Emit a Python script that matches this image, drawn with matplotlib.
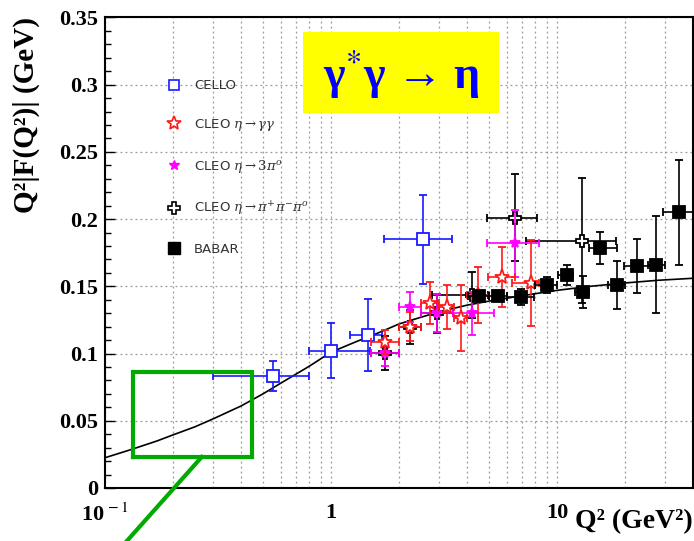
import matplotlib
matplotlib.use('Agg')
import matplotlib.pyplot as plt
import numpy as np
from matplotlib.patches import Rectangle
from matplotlib.lines import Line2D

plt.rcParams['font.family'] = ['Liberation Serif', 'DejaVu Serif']
plt.rcParams['mathtext.fontset'] = 'stix'

# CELLO
cello_q2 = np.array([0.553, 1.0, 1.46, 2.55])
cello_f = np.array([0.0833, 0.102, 0.1138, 0.185])
cello_q2_lo = np.array([0.30, 0.80, 1.21, 1.72])
cello_q2_hi = np.array([0.80, 1.49, 1.68, 3.43])
cello_err = np.array([0.0115, 0.0205, 0.027, 0.033])

# CLEO eta -> gamma gamma
gg_q2 = np.array([1.73, 2.24, 2.74, 3.26, 3.76, 4.47, 5.71, 7.67])
gg_f = np.array([0.1086, 0.120, 0.1376, 0.1347, 0.1265, 0.1436, 0.157, 0.1525])
gg_q2_lo = np.array([1.5, 2.0, 2.5, 3.0, 3.5, 4.0, 4.95, 6.3])
gg_q2_hi = np.array([2.0, 2.5, 3.0, 3.5, 4.0, 5.0, 6.5, 8.3])
gg_err = np.array([0.009, 0.011, 0.0155, 0.0165, 0.0245, 0.021, 0.0225, 0.032])

# CLEO eta -> 3pi0
pi0_q2 = np.array([1.73, 2.24, 2.95, 4.2, 6.5])
pi0_f = np.array([0.1004, 0.1347, 0.130, 0.130, 0.182])
pi0_q2_lo = np.array([1.5, 2.0, 2.5, 3.46, 4.9])
pi0_q2_hi = np.array([2.0, 2.5, 3.46, 5.24, 8.3])
pi0_err = np.array([0.010, 0.011, 0.014, 0.016, 0.025])

# CLEO eta -> pi+ pi- pi0
ppp_q2 = np.array([1.73, 2.24, 2.95, 4.2, 6.5, 12.9])
ppp_f = np.array([0.1004, 0.1198, 0.130, 0.1436, 0.201, 0.1838])
ppp_q2_lo = np.array([1.5, 2.0, 2.5, 2.8, 4.9, 7.3])
ppp_q2_hi = np.array([2.0, 2.5, 3.46, 4.95, 8.2, 18.3])
ppp_err = np.array([0.0126, 0.0125, 0.0145, 0.017, 0.0325, 0.0465])

# BABAR
babar_q2 = np.array([4.52, 5.48, 6.93, 9.03, 11.07, 13.0, 15.5, 18.4, 22.6, 27.4, 34.7])
babar_f = np.array([0.1428, 0.1428, 0.142, 0.151, 0.1585, 0.1458, 0.1786, 0.151, 0.165, 0.166, 0.205])
babar_q2_lo = np.array([4.03, 5.0, 6.0, 8.0, 10.1, 12.0, 13.9, 16.8, 19.8, 25.2, 29.6])
babar_q2_hi = np.array([5.0, 6.0, 7.9, 10.0, 11.8, 13.9, 18.4, 20.0, 26.4, 30.0, 40.0])
babar_err = np.array([0.004, 0.004, 0.006, 0.006, 0.0075, 0.012, 0.012, 0.018, 0.020, 0.036, 0.039])

# fit curve
curve_q2 = [0.1, 0.13, 0.17, 0.2, 0.25, 0.3, 0.4, 0.5, 0.6, 0.8, 1.0, 1.3, 1.6, 2, 2.5, 3,
            4, 5, 7, 10, 14, 20, 28, 40]
curve_f = [0.0225, 0.0285, 0.0350, 0.0395, 0.0455, 0.0513, 0.0610, 0.0700, 0.0780, 0.0905,
           0.1010, 0.1090, 0.1150, 0.1220, 0.1270, 0.1310, 0.1360, 0.1390, 0.1430, 0.1470,
           0.1500, 0.1525, 0.1545, 0.1560]

# green zoom box (data coords) and its pointer line
box_q2 = (0.133, 0.447)
box_f = (0.0231, 0.0863)
pointer_q2 = (0.268, 0.125)
pointer_f = (0.0231, -0.0394)

fig = plt.figure(figsize=(6.94, 5.41), dpi=100)
ax = fig.add_axes([0.1513, 0.098, 0.8473, 0.8697])
ax.set_xscale('log')
ax.set_xlim(0.1, 40)
ax.set_ylim(0, 0.35)


def points(q2, f, lo, hi, err, color, marker, ms, mfc, z):
    ax.errorbar(q2, f, xerr=[q2 - lo, hi - q2], yerr=err, fmt=marker, color=color,
                mfc=mfc, mec=color, ms=ms, mew=1.3, capsize=3.2, elinewidth=1.2,
                capthick=1.2, zorder=z)


ax.plot(curve_q2, curve_f, color='black', lw=1.2, zorder=2)
points(cello_q2, cello_f, cello_q2_lo, cello_q2_hi, cello_err, '#1a1aff', 's', 8, 'white', 3)
points(ppp_q2, ppp_f, ppp_q2_lo, ppp_q2_hi, ppp_err, 'black', 'P', 9, 'white', 4)
points(pi0_q2, pi0_f, pi0_q2_lo, pi0_q2_hi, pi0_err, '#ff00ff', '*', 8, '#ff00ff', 5)
points(gg_q2, gg_f, gg_q2_lo, gg_q2_hi, gg_err, '#ff1a1a', '*', 11, 'white', 6)
points(babar_q2, babar_f, babar_q2_lo, babar_q2_hi, babar_err, 'black', 's', 9, 'black', 7)

# green box
ax.plot([box_q2[0], box_q2[1], box_q2[1], box_q2[0], box_q2[0]],
        [box_f[0], box_f[0], box_f[1], box_f[1], box_f[0]],
        color='#00aa00', lw=3, zorder=8, solid_joinstyle='miter')
ax.plot(pointer_q2, pointer_f, color='#00aa00', lw=3, zorder=8, clip_on=False)

# title box
ax.add_patch(Rectangle((0.337, 0.797), 0.333, 0.172, transform=ax.transAxes,
                       facecolor='#ffff00', edgecolor='none', zorder=9))
ax.text(0.5035, 0.878, 'γ$^{*}$γ → η', transform=ax.transAxes, ha='center', va='center',
        fontsize=33, fontweight='bold', color='#0000ff', zorder=10)

# legend
handles = [
    Line2D([], [], ls='none', marker='s', ms=7, mfc='white', mec='#1a1aff', mew=1.2),
    Line2D([], [], ls='none', marker='*', ms=10, mfc='white', mec='#ff1a1a', mew=1.2),
    Line2D([], [], ls='none', marker='*', ms=7, mfc='#ff00ff', mec='#ff00ff'),
    Line2D([], [], ls='none', marker='P', ms=8, mfc='white', mec='black', mew=1.2),
    Line2D([], [], ls='none', marker='s', ms=8, mfc='black', mec='black'),
]
labels = ['CELLO', r'CLEO $\eta\rightarrow\gamma\gamma$', r'CLEO $\eta\rightarrow3\pi^{o}$',
          r'CLEO $\eta\rightarrow\pi^{+}\pi^{-}\pi^{o}$', 'BABAR']
leg = ax.legend(handles, labels, loc='upper left', bbox_to_anchor=(0.0974, 0.880),
                borderaxespad=0, frameon=False, handlelength=1.0, handletextpad=1.0,
                labelspacing=1.88,
                prop={'family': 'DejaVu Sans', 'size': 9.5, 'math_fontfamily': 'dejavuserif'})
for t in leg.get_texts():
    t.set_color('#333333')

# grid and ticks
ax.set_xticks([0.1, 1, 10])
ax.set_xticklabels([r'10$^{\,-1}$', '1', '10'])
ax.set_yticks(np.arange(0, 0.351, 0.05))
ax.set_yticklabels(['0', '0.05', '0.1', '0.15', '0.2', '0.25', '0.3', '0.35'])
ax.set_yticks(np.arange(0, 0.351, 0.01), minor=True)
ax.grid(True, which='major', axis='y', ls=(0, (1.5, 2.5)), color='#999999', lw=0.9)
ax.grid(True, which='both', axis='x', ls=(0, (1.5, 2.5)), color='#999999', lw=0.9)
ax.tick_params(axis='y', which='major', direction='in', length=7, width=1, pad=5,
               labelsize=16)
ax.tick_params(axis='y', which='minor', direction='in', length=4, width=1)
ax.tick_params(axis='x', which='both', length=0, pad=11, labelsize=16)
for lab in ax.get_xticklabels() + ax.get_yticklabels():
    lab.set_fontweight('bold')
for s in ax.spines.values():
    s.set_linewidth(1.5)

ax.set_xlabel('Q² (GeV²)', loc='right', fontsize=20, fontweight='bold')
ax.xaxis.set_label_coords(1.0, -0.045)
ax.set_ylabel('Q²|F(Q²)| (GeV)', loc='top', fontsize=21, fontweight='bold')
ax.yaxis.set_label_coords(-0.11, 1.0)

fig.savefig('out.png', dpi=100)
